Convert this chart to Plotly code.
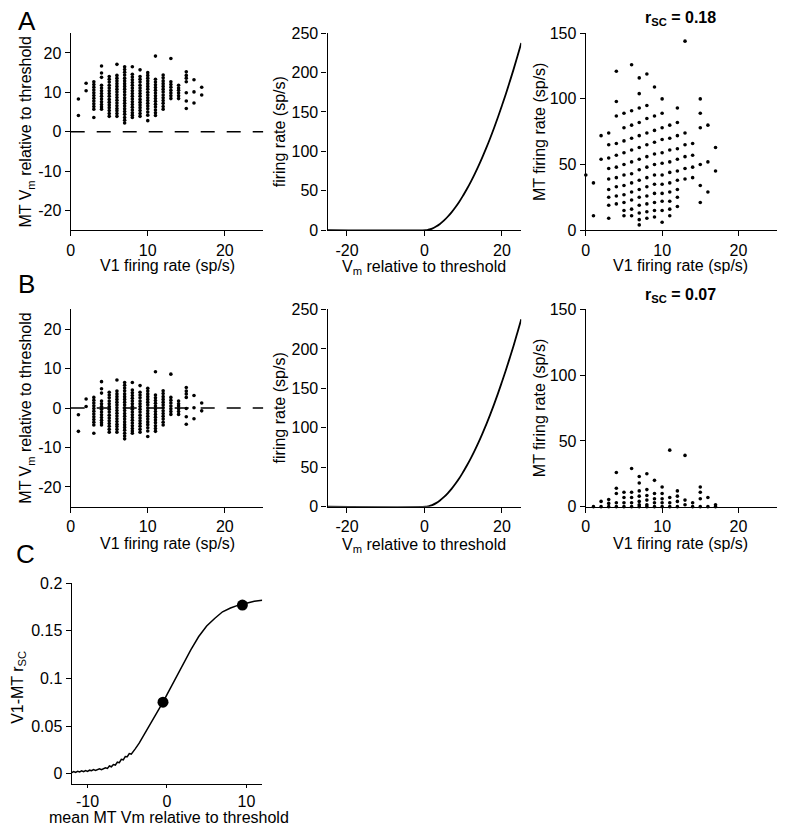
import plotly.graph_objects as go

W, H = 802, 827
FONT = "Liberation Sans, Arial, Helvetica, sans-serif"
# page-to-picture calibration (body margin etc.)
OFF_X = 10.0
OFF_Y = 15.0
SCALE_Y = 0.9825

# ---------------- data ----------------
V1_RATE = list(range(1, 18))  # V1 firing rate columns for Vm scatter (sp/s)

A_VM = [
    [8.3, 4.1],
    [12.3, 10.4],
    [12.7, 12.0, 11.3, 10.6, 9.9, 9.2, 8.5, 7.8, 7.1, 6.4, 5.7, 3.6],
    [16.7, 14.9, 13.8, 11.8, 11.1, 10.4, 9.7, 9.0, 8.3, 7.6, 6.9, 6.3, 5.7],
    [14.0, 13.3, 12.6, 11.8, 11.1, 10.4, 9.7, 9.0, 8.2, 7.5, 6.8, 6.1, 5.4, 4.6, 3.9],
    [17.1, 14.3, 13.6, 12.9, 12.2, 11.5, 10.8, 10.1, 9.4, 8.7, 8.0, 7.3, 6.6, 5.9, 5.3, 4.6, 3.9],
    [16.5, 15.8, 15.1, 14.4, 13.6, 12.9, 12.2, 11.5, 10.8, 10.1, 9.4, 8.6, 7.9, 7.2, 6.5, 5.8, 5.1, 4.4, 3.6, 2.9, 2.2],
    [16.5, 14.6, 13.9, 13.2, 12.5, 11.8, 11.1, 10.4, 9.7, 9.0, 8.3, 7.6, 6.9, 6.2, 5.5, 4.8, 4.2, 3.6],
    [15.7, 14.0, 13.3, 12.6, 11.8, 11.1, 10.4, 9.7, 9.0, 8.2, 7.5, 6.8, 6.1, 5.4, 4.6, 3.9],
    [15.0, 14.3, 13.6, 12.9, 12.2, 11.5, 10.8, 10.0, 9.3, 8.6, 7.9, 7.2, 6.5, 5.8, 5.0, 4.2, 2.8],
    [19.2, 13.3, 12.6, 11.9, 11.2, 10.5, 9.8, 9.1, 8.4, 7.7, 7.0, 6.3, 5.5, 4.8, 4.1],
    [14.4, 13.7, 12.9, 12.2, 11.5, 10.8, 10.1, 9.3, 8.6, 7.9, 7.2, 6.4, 5.7],
    [18.6, 12.7, 12.0, 11.3, 10.5, 9.8, 9.1, 8.4],
    [11.8, 11.1, 10.5, 9.8, 9.1, 8.4],
    [15.2, 14.3, 13.6, 12.7, 9.9, 7.8, 5.9],
    [13.2, 10.1, 7.3],
    [11.3, 9.3],
]

B_VM = [
    [-1.7, -5.9],
    [2.3, 0.4],
    [2.7, 2.0, 1.3, 0.6, -0.1, -0.8, -1.5, -2.2, -2.9, -3.6, -4.3, -6.4],
    [6.7, 4.9, 3.8, 1.8, 1.1, 0.4, -0.3, -1.0, -1.7, -2.4, -3.1, -3.7, -4.3],
    [4.0, 3.3, 2.6, 1.8, 1.1, 0.4, -0.3, -1.0, -1.8, -2.5, -3.2, -3.9, -4.6, -5.4, -6.1],
    [7.1, 4.3, 3.6, 2.9, 2.2, 1.5, 0.8, 0.1, -0.6, -1.3, -2.0, -2.7, -3.4, -4.1, -4.7, -5.4, -6.1],
    [6.5, 5.8, 5.1, 4.4, 3.6, 2.9, 2.2, 1.5, 0.8, 0.1, -0.6, -1.4, -2.1, -2.8, -3.5, -4.2, -4.9, -5.6, -6.4, -7.1, -7.8],
    [6.5, 4.6, 3.9, 3.2, 2.5, 1.8, 1.1, 0.4, -0.3, -1.0, -1.7, -2.4, -3.1, -3.8, -4.5, -5.2, -5.8, -6.4],
    [5.7, 4.0, 3.3, 2.6, 1.8, 1.1, 0.4, -0.3, -1.0, -1.8, -2.5, -3.2, -3.9, -4.6, -5.4, -6.1],
    [5.0, 4.3, 3.6, 2.9, 2.2, 1.5, 0.8, 0.0, -0.7, -1.4, -2.1, -2.8, -3.5, -4.2, -5.0, -5.8, -7.2],
    [9.2, 3.3, 2.6, 1.9, 1.2, 0.5, -0.2, -0.9, -1.6, -2.3, -3.0, -3.7, -4.5, -5.2, -5.9],
    [4.4, 3.7, 2.9, 2.2, 1.5, 0.8, 0.1, -0.7, -1.4, -2.1, -2.8, -3.6, -4.3],
    [8.6, 2.7, 2.0, 1.3, 0.5, -0.2, -0.9, -1.6],
    [1.8, 1.1, 0.5, -0.2, -0.9, -1.6],
    [5.2, 4.3, 3.6, 2.7, -0.1, -2.2, -4.1],
    [3.2, 0.1, -2.7],
    [1.3, -0.7],
]

V1_RATE_MT = list(range(0, 18))  # V1 firing-rate columns for MT-rate scatter

A_MT = [
    [42],
    [36, 11],
    [72, 54],
    [74, 65, 55, 47, 39, 31, 25, 19, 9],
    [121, 98, 87, 66, 57, 48, 40, 33, 26, 20],
    [89, 78, 68, 59, 50, 42, 34, 27, 21, 15, 11],
    [126, 91, 80, 70, 61, 52, 43, 36, 29, 23, 16, 11],
    [116, 104, 93, 82, 72, 63, 54, 46, 38, 31, 25, 19, 13, 8, 4],
    [119, 95, 85, 74, 65, 56, 48, 40, 33, 26, 20, 14, 9],
    [109, 87, 76, 67, 58, 50, 42, 35, 28, 21, 15, 10],
    [100, 89, 78, 69, 59, 51, 42, 35, 28, 22, 15, 6],
    [80, 70, 61, 52, 44, 36, 29, 22, 16, 11],
    [93, 82, 72, 62, 54, 45, 38, 31, 25, 18],
    [144, 74, 65, 56, 47, 39],
    [66, 57, 48, 40],
    [100, 89, 78, 50, 34, 21],
    [80, 52, 29],
    [63, 45],
]

B_MT = [
    [],
    [0],
    [4, 0],
    [5.5, 2.5, 0],
    [26, 14, 10, 3, 0],
    [11, 7, 3, 0],
    [29, 11, 7, 3, 0],
    [23, 18, 12, 8, 4, 1.5, 0],
    [25, 13, 8.5, 5, 1.5, 0],
    [20, 10, 6, 3, 0],
    [15, 10, 6, 3, 0],
    [43, 7, 3, 0],
    [12, 8, 4, 0],
    [39, 5, 1.5],
    [3, 0],
    [15, 11, 6, 0],
    [7, 0],
    [1.5, 0],
]

# static nonlinearity: Vm relative to threshold -> firing rate
NL_VM = [-25, 0.4, 1, 2, 3, 4, 5, 6, 7, 8, 9, 10, 11, 12, 13, 14, 15, 16, 17, 18,
         19, 20, 21, 22, 23, 24, 25]
NL_RATE = [0, 0, 0.5, 2.0, 4.5, 7.8, 12.0, 17.0, 22.6, 29, 36, 44, 52.5, 61.6,
           71.4, 81.8, 93, 104.7, 117, 130, 143.6, 158, 172.6, 188, 203.8, 220.5, 237.5]

# panel C: rsc vs mean MT Vm
C_VM = [-12, -11.75, -11.5, -11.25, -11, -10.75, -10.5, -10.25, -10, -9.75, -9.5,
        -9.25, -9, -8.75, -8.5, -8.25, -8, -7.75, -7.5, -7.25, -7, -6.75, -6.5,
        -6.25, -6, -5.75, -5.5, -5.25, -5, -4.75, -4.5, -4.25, -4, -3.5, -3, -2.5,
        -2, -1.5, -1, -0.5, 0, 0.5, 1, 1.5, 2, 3, 4, 5, 6, 7, 8, 9, 10, 11, 12]
C_RSC = [0.0010, 0.0022, 0.0012, 0.0025, 0.0018, 0.0030, 0.0020, 0.0032, 0.0024,
         0.0036, 0.0030, 0.0042, 0.0034, 0.0040, 0.0050, 0.0042, 0.0048, 0.0062,
         0.0055, 0.0080, 0.0072, 0.0095, 0.0090, 0.0120, 0.0115, 0.0150, 0.0145,
         0.0180, 0.0178, 0.0210, 0.0205, 0.0240, 0.0260, 0.032, 0.039, 0.047,
         0.054, 0.061, 0.068, 0.075, 0.083, 0.091, 0.099, 0.107, 0.115, 0.130,
         0.144, 0.155, 0.163, 0.170, 0.174, 0.177, 0.179, 0.181, 0.182]
C_PTS_VM = [-0.5, 9.5]
C_PTS_RSC = [0.075, 0.177]

RSC_A = "0.18"
RSC_B = "0.07"

# ---------------- helpers ----------------
def flat(cols, xs):
    X, Y = [], []
    for x, col in zip(xs, cols):
        for v in col:
            X.append(x)
            Y.append(v)
    return X, Y

def px_x(p):
    return (p - OFF_X) / W

def px_y(p):
    return 1 - ((p - OFF_Y) / SCALE_Y) / H

def lbl(vals):
    return [("-" + str(abs(v))) if v < 0 else str(v) for v in vals]

fig = go.Figure()

def dots(cols, xs, ax):
    X, Y = flat(cols, xs)
    fig.add_trace(go.Scatter(x=X, y=Y, mode="markers", xaxis="x" + ax, yaxis="y" + ax,
                             marker=dict(color="black", size=3.6), cliponaxis=False,
                             showlegend=False, hoverinfo="skip"))

dots(A_VM, V1_RATE, "")
dots(A_MT, V1_RATE_MT, "3")
dots(B_VM, V1_RATE, "4")
dots(B_MT, V1_RATE_MT, "6")

for ax in ["2", "5"]:
    fig.add_trace(go.Scatter(x=NL_VM, y=NL_RATE, mode="lines", line=dict(color="black", width=1.8, shape="spline"),
                             xaxis="x" + ax, yaxis="y" + ax, showlegend=False, cliponaxis=False))

fig.add_trace(go.Scatter(x=C_VM, y=C_RSC, mode="lines", line=dict(color="black", width=1.5),
                         xaxis="x7", yaxis="y7", showlegend=False, cliponaxis=False))
fig.add_trace(go.Scatter(x=C_PTS_VM, y=C_PTS_RSC, mode="markers", marker=dict(color="black", size=11),
                         xaxis="x7", yaxis="y7", showlegend=False, cliponaxis=False))

# ---------------- axes ----------------
def axis(domain, rng, tickvals, ticktext=None, anchor=None):
    d = dict(domain=domain, range=rng, tickvals=tickvals,
             ticktext=ticktext if ticktext is not None else lbl(tickvals),
             showline=True, linecolor="black",
             linewidth=1.4, ticks="outside", ticklen=5, tickwidth=1.4, tickcolor="black",
             showgrid=False, zeroline=False, tickfont=dict(family=FONT, size=16, color="black"),
             anchor=anchor, fixedrange=True)
    return d

XL = [px_x(69), px_x(262.6)]
XM = [px_x(327.2), px_x(521.8)]
XR = [px_x(586.7), px_x(778.4)]
YA = [px_y(229.8), px_y(32.3)]
YB = [px_y(507.2), px_y(309.4)]
XC = [px_x(70), px_x(261.5)]
YC = [px_y(785), px_y(584)]

lay = {}
lay["xaxis"] = axis(XL, [0, 25], [0, 10, 20], anchor="y")
lay["yaxis"] = axis(YA, [-25, 25], [-20, -10, 0, 10, 20], anchor="x")
lay["xaxis2"] = axis(XM, [-25, 25], [-20, 0, 20], anchor="y2")
lay["yaxis2"] = axis(YA, [0, 250], [0, 50, 100, 150, 200, 250], anchor="x2")
lay["xaxis3"] = axis(XR, [0, 25], [0, 10, 20], anchor="y3")
lay["yaxis3"] = axis(YA, [0, 150], [0, 50, 100, 150], anchor="x3")
lay["xaxis4"] = axis(XL, [0, 25], [0, 10, 20], anchor="y4")
lay["yaxis4"] = axis(YB, [-25, 25], [-20, -10, 0, 10, 20], anchor="x4")
lay["xaxis5"] = axis(XM, [-25, 25], [-20, 0, 20], anchor="y5")
lay["yaxis5"] = axis(YB, [0, 250], [0, 50, 100, 150, 200, 250], anchor="x5")
lay["xaxis6"] = axis(XR, [0, 25], [0, 10, 20], anchor="y6")
lay["yaxis6"] = axis(YB, [0, 150], [0, 50, 100, 150], anchor="x6")
lay["xaxis7"] = axis(XC, [-12, 12], [-10, 0, 10], anchor="y7")
lay["yaxis7"] = axis(YC, [-0.0105, 0.2], [0, 0.05, 0.1, 0.15, 0.2], ["0", "0.05", "0.1", "0.15", "0.2"], anchor="x7")
lay["xaxis7"]["ticklen"] = 3

# dashed threshold lines
shapes = []
for xr, yr in [("x", "y"), ("x4", "y4")]:
    shapes.append(dict(type="line", xref=xr, yref=yr, x0=0, x1=25, y0=0, y1=0,
                       line=dict(color="black", width=1.5, dash="14px,12px")))

# ---------------- annotations ----------------
ann = []

def text(t, x, y, size=16, angle=0, bold=False):
    if bold:
        t = "<b>" + t + "</b>"
    ann.append(dict(text=t, x=px_x(x), y=px_y(y), xref="paper", yref="paper", showarrow=False,
                    xanchor="center", yanchor="middle", textangle=angle, borderpad=0,
                    font=dict(family=FONT, size=size, color="black")))

text("A", 25, 20, size=26)
text("B", 25, 284, size=26)
text("C", 24, 555, size=26)

for yoff, rsc in [(0, RSC_A), (279, RSC_B)]:
    text("MT V<sub>m</sub> relative to threshold", 25, 131 + yoff - (2 if yoff else 0), angle=-90)
    text("V1 firing rate (sp/s)", 166, 265 + yoff)
    text("firing rate (sp/s)", 279, 131 + yoff - (2 if yoff else 0), angle=-90)
    text("V<sub>m</sub> relative to threshold", 424, 267 + yoff)
    text("MT firing rate (sp/s)", 540, 131 + yoff - (2 if yoff else 0), angle=-90)
    text("V1 firing rate (sp/s)", 682, 265 + yoff)
    text("r<sub>SC</sub> = " + rsc, 682, 18 + yoff - (2 if yoff else 0), bold=True)

text("V1-MT r<sub>SC</sub>", 17, 688, angle=-90)
text("mean MT Vm relative to threshold", 168, 819)

fig.update_layout(**lay)
fig.update_layout(width=W, height=H, margin=dict(l=0, r=0, t=0, b=0),
                  plot_bgcolor="white", paper_bgcolor="white",
                  shapes=shapes, annotations=ann, showlegend=False,
                  font=dict(family=FONT, size=16, color="black"))

fig.write_html("out.html")
